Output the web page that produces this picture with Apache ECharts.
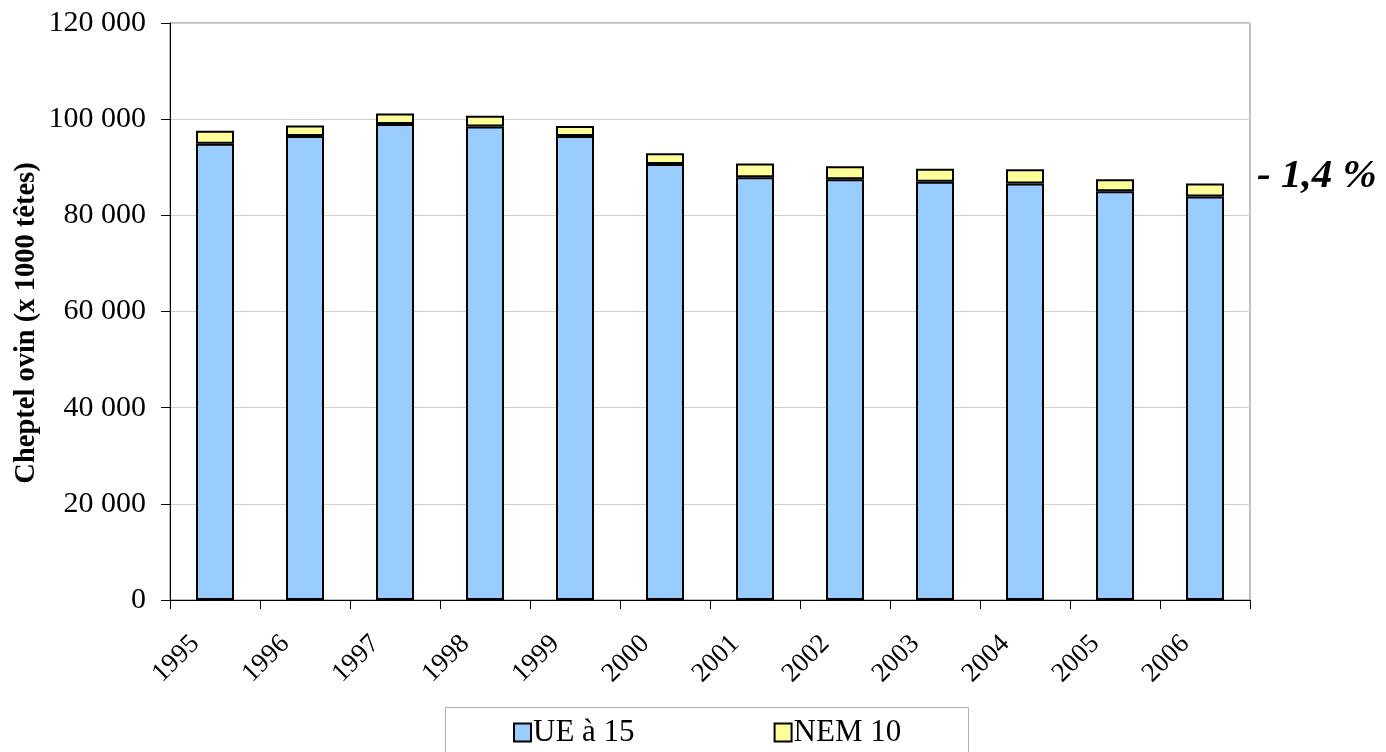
<!DOCTYPE html>
<html>
<head>
<meta charset="utf-8">
<script src="https://cdn.jsdelivr.net/npm/echarts@6/dist/echarts.min.js"></script>
<style>html,body{margin:0;padding:0;background:#fff;}#c{width:1386px;height:752px;}</style>
</head>
<body>
<div id="c"></div>
<script>
const years = ['1995','1996','1997','1998','1999','2000','2001','2002','2003','2004','2005','2006'];
const ue15 = [94900, 96500, 99000, 98500, 96500, 90700, 87900, 87500, 87000, 86600, 85000, 83900];
const nem10 = [2700, 2200, 2200, 2200, 2100, 2200, 2900, 2700, 2700, 3000, 2500, 2700];
const seriesNames = ['UE à 15', 'NEM 10'];
const yTicks = [0, 20000, 40000, 60000, 80000, 100000, 120000];
const yAxisTitle = 'Cheptel ovin (x 1000 têtes)';
const annotation = '- 1,4 %';

const font = '"Liberation Serif", "Times New Roman", serif';
const chart = echarts.init(document.getElementById('c'));
function fmt(v){ return String(v).replace(/\B(?=(\d{3})+(?!\d))/g, ' '); }
chart.setOption({
  animation: false,
  grid: {left: 170, right: 136, top: 23, bottom: 152, show: true, borderColor: '#808080', borderWidth: 1,
         containLabel: false, outerBoundsMode: 'none'},
  xAxis: {
    type: 'category', data: years,
    axisLine: {lineStyle: {color: '#000', width: 1}},
    axisTick: {show: true, alignWithLabel: false, length: 9, lineStyle: {color: '#000'}},
    axisLabel: {rotate: 45, fontFamily: font, fontSize: 27, color: '#000', margin: 20, padding: [0, 28, 0, 0]}
  },
  yAxis: {
    type: 'value', min: yTicks[0], max: yTicks[yTicks.length-1], interval: 20000,
    axisLine: {show: true, lineStyle: {color: '#000', width: 1}},
    axisTick: {show: true, length: 9, lineStyle: {color: '#000'}},
    axisLabel: {fontFamily: font, fontSize: 30, color: '#000', margin: 24, formatter: fmt},
    splitLine: {lineStyle: {color: '#d0d0d0', width: 1}}
  },
  legend: {
    data: seriesNames, left: 508, top: 712, itemGap: 139, itemWidth: 17, itemHeight: 18,
    icon: 'rect',
    textStyle: {fontFamily: font, fontSize: 31, color: '#000', padding: [0,0,0,-3]}
  },
  graphic: [
    {type: 'rect', left: 443, top: 705, shape: {width: 523, height: 60}, style: {fill: 'none', stroke: '#b0b0b0', lineWidth: 1}, z: -1},
    {type: 'text', left: 1257, top: 156, style: {text: annotation, font: 'bold italic 41px ' + font, fill: '#000'}},
    {type: 'text', x: 27, y: 323, rotation: Math.PI / 2,
     style: {text: yAxisTitle, font: 'bold 28.5px ' + font, fill: '#000', align: 'center', verticalAlign: 'middle'}}
  ],
  series: [
    {name: seriesNames[0], type: 'bar', stack: 't', data: ue15, barWidth: 38,
     itemStyle: {color: '#99ccff', borderColor: '#000', borderWidth: 2}},
    {name: seriesNames[1], type: 'bar', stack: 't', data: nem10, barWidth: 38,
     itemStyle: {color: '#ffff99', borderColor: '#000', borderWidth: 2}}
  ]
});
</script>
</body>
</html>
